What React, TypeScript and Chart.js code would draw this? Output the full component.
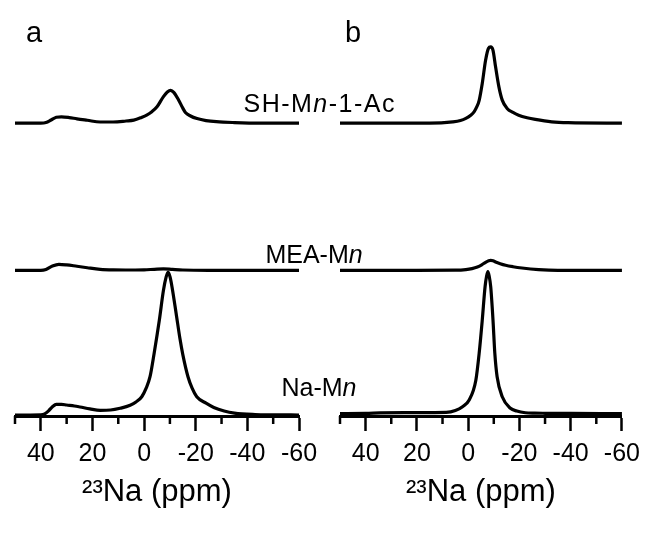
import React, { useEffect, useRef } from 'react';
import { Chart, registerables } from 'chart.js';

Chart.register(...registerables);

const FONT = '"Liberation Sans", Arial, Helvetica, sans-serif';

// ---- axis ----
const X_MIN = -60;
const X_MAX = 50;
const MAJOR_TICKS = [40, 20, 0, -20, -40, -60];
const MINOR_TICKS = [50, 30, 10, -10, -30, -50];
const AXIS_TITLE = '²³Na (ppm)';

// ---- stacking offsets (intensity units) ----
const OFFSET_NA = 0;
const OFFSET_MEA = 102;
const OFFSET_SH = 205;

// ---- panel a ----
const ppmA_SH = [50, 40, 38, 36, 34, 32, 29, 26, 22, 17, 12, 7, 4, 1, -1, -3, -5, -7.5, -9, -10.3, -11.5, -13.3, -15, -16, -18, -20.5, -24, -28, -35, -45, -60];
const intA_SH = [0, 0, 0.4, 2.2, 4.1, 4.4, 3.9, 3, 2, 0.8, 0.8, 1.5, 2.1, 4, 5.6, 8, 11.4, 18.6, 21.8, 23, 21.5, 16.4, 10.5, 7.5, 5, 3.2, 1.8, 1, 0.4, 0, 0];

const ppmA_MEA = [50, 40, 38, 35.5, 33, 30, 26, 22, 17, 12, 5, 0, -4, -7.5, -11, -15, -25, -40, -60];
const intA_MEA = [0, 0, 0.6, 3, 4.2, 3.8, 2.8, 1.8, 0.7, 0.3, 0.2, 0.3, 0.7, 1, 0.6, 0.2, 0, 0, 0];

const ppmA_NA = [50, 44, 40, 38.5, 37, 35.5, 34, 32, 30, 27, 24.8, 21, 17, 13, 9.3, 5.4, 3, 0.9, -0.8, -2.3, -3.9, -5.9, -7.5, -8.5, -9.3, -10.1, -10.8, -12.4, -13.9, -15, -17, -18.6, -20.4, -24, -27, -31, -35, -43, -50, -60];
const intA_NA = [0.7, 0.7, 0.8, 1.5, 3.6, 6.5, 8.2, 8.2, 7.7, 7, 6.3, 5, 4, 4.2, 5.4, 7.5, 10, 13.5, 19.5, 27.5, 44, 67, 88, 97, 100.8, 97, 90.5, 72, 54, 43, 27.5, 19.5, 13.5, 9, 6, 3.5, 2, 1, 0.8, 0.7];

// ---- panel b ----
const ppmB_SH = [50, 30, 15, 6, 3, 0.9, -1, -2.3, -3.4, -4.3, -5.5, -6.8, -7.9, -8.8, -9.7, -10.7, -12, -13.3, -15.2, -17.5, -19.7, -23, -26.2, -32.6, -39, -60];
const intB_SH = [0, 0, 0, 0.9, 1.8, 3.3, 5.5, 7.9, 11.5, 16, 27.8, 44, 52.3, 53.4, 51, 39.4, 25.4, 16.1, 10.3, 7.5, 5.6, 3.8, 2.6, 0.9, 0.3, 0];

const ppmB_MEA = [50, 20, 5, 0.9, -1.5, -3.6, -5.3, -6.8, -8, -8.8, -9.7, -10.7, -12.5, -14.6, -17.5, -21, -27.5, -35, -60];
const intB_MEA = [0, 0, 0.1, 0.5, 1.2, 2.3, 3.8, 5.6, 6.7, 7, 6.7, 5.8, 4.6, 3.5, 2.5, 1.6, 0.5, 0, 0];

const ppmB_NA = [50, 40, 34.4, 25, 15, 8.6, 5, 2.2, -0.4, -3, -4.3, -5.5, -6.6, -7.2, -7.7, -8.2, -8.8, -9.7, -10.4, -11.3, -13.3, -16.5, -19, -22.3, -26, -30, -40, -60];
const intB_NA = [1.7, 1.8, 2.2, 2.4, 2.4, 2.5, 3.8, 6.5, 11.2, 25, 44, 67, 90.5, 98, 101, 98, 90.5, 67, 44, 27.5, 13.5, 5.4, 3.5, 2.3, 2, 1.9, 1.8, 1.7];

// ---- text ----
const PANEL_LETTERS = ['a', 'b'];
const LABEL_SH: [string, boolean][] = [['SH-M', false], ['n', true], ['-1-Ac', false]];
const LABEL_MEA: [string, boolean][] = [['MEA-M', false], ['n', true]];
const LABEL_NA: [string, boolean][] = [['Na-M', false], ['n', true]];

function toPoints(ppm: number[], vals: number[], offset: number) {
  return ppm.map((x, i) => ({ x, y: vals[i] + offset }));
}

function ds(ppm: number[], vals: number[], offset: number) {
  return {
    data: toPoints(ppm, vals, offset),
    borderColor: '#000',
    borderWidth: 3.2,
    pointRadius: 0,
    fill: false,
    cubicInterpolationMode: 'monotone' as const,
  };
}

const minorTicksPlugin = {
  id: 'minorTicks',
  afterDraw(chart: any) {
    const sx = chart.scales.x;
    const ctx = chart.ctx;
    const y0 = chart.chartArea.bottom;
    ctx.save();
    ctx.strokeStyle = '#000';
    ctx.lineWidth = 2.5;
    MINOR_TICKS.forEach((v) => {
      const px = sx.getPixelForValue(v);
      ctx.beginPath();
      ctx.moveTo(px, y0);
      ctx.lineTo(px, y0 + 8);
      ctx.stroke();
    });
    ctx.restore();
  },
};

function drawRich(ctx: CanvasRenderingContext2D, segs: [string, boolean][], cx: number, baseline: number, size: number, spacing: number) {
  ctx.save();
  (ctx as any).letterSpacing = spacing + 'px';
  ctx.textBaseline = 'alphabetic';
  ctx.textAlign = 'left';
  ctx.fillStyle = '#000';
  const widths = segs.map(([t, it]) => {
    ctx.font = `${it ? 'italic ' : ''}${size}px ${FONT}`;
    return ctx.measureText(t).width;
  });
  const total = widths.reduce((a, b) => a + b, 0) - spacing;
  let x = cx - total / 2;
  segs.forEach(([t, it], i) => {
    ctx.font = `${it ? 'italic ' : ''}${size}px ${FONT}`;
    ctx.fillText(t, x, baseline);
    x += widths[i];
  });
  ctx.restore();
}

const labelsPlugin = {
  id: 'labels',
  afterDraw(chart: any) {
    const ctx = chart.ctx as CanvasRenderingContext2D;
    ctx.save();
    ctx.fillStyle = '#000';
    ctx.font = `29px ${FONT}`;
    ctx.textBaseline = 'alphabetic';
    ctx.textAlign = 'left';
    ctx.fillText(PANEL_LETTERS[0], 26, 42);
    ctx.fillText(PANEL_LETTERS[1], 345, 42);
    ctx.restore();
    drawRich(ctx, LABEL_SH, 319, 112, 25, 1.5);
    drawRich(ctx, LABEL_MEA, 314, 263, 25, 0);
    drawRich(ctx, LABEL_NA, 319, 396, 25, 0);
  },
};

function makeConfig(datasets: any[], padLeft: number, padRight: number, extra: any[]): any {
  return {
    type: 'line',
    data: { datasets },
    options: {
      animation: false,
      responsive: false,
      maintainAspectRatio: false,
      devicePixelRatio: 1,
      layout: { padding: { left: padLeft, right: padRight, top: 16, bottom: 0 } },
      plugins: {
        legend: { display: false },
        tooltip: { enabled: false },
        title: { display: false },
      },
      scales: {
        x: {
          type: 'linear',
          reverse: true,
          min: X_MIN,
          max: X_MAX,
          afterFit: (s: any) => {
            s.height = 117;
          },
          ticks: {
            stepSize: 10,
            autoSkip: false,
            maxRotation: 0,
            minRotation: 0,
            color: '#000',
            padding: 8,
            font: { family: FONT, size: 25 },
            callback: (v: any) => (MAJOR_TICKS.includes(Number(v)) ? String(v) : ''),
          },
          grid: {
            display: true,
            drawOnChartArea: false,
            drawTicks: true,
            tickLength: 15,
            tickWidth: 2.5,
            tickColor: (c: any) => (c.tick && MAJOR_TICKS.includes(c.tick.value) ? '#000' : 'rgba(0,0,0,0)'),
          },
          border: { display: true, color: '#000', width: 3 },
          title: {
            display: true,
            text: AXIS_TITLE,
            color: '#000',
            font: { family: FONT, size: 31 },
            padding: { top: 0, bottom: 22 },
          },
        },
        y: { type: 'linear', display: false, min: 0, max: 280 },
      },
    },
    plugins: [minorTicksPlugin, ...extra],
  };
}

export default function App() {
  const refA = useRef<HTMLCanvasElement>(null);
  const refB = useRef<HTMLCanvasElement>(null);

  useEffect(() => {
    const chartA = new Chart(
      refA.current as HTMLCanvasElement,
      makeConfig(
        [ds(ppmA_SH, intA_SH, OFFSET_SH), ds(ppmA_MEA, intA_MEA, OFFSET_MEA), ds(ppmA_NA, intA_NA, OFFSET_NA)],
        15,
        349,
        [labelsPlugin]
      )
    );
    const chartB = new Chart(
      refB.current as HTMLCanvasElement,
      makeConfig(
        [ds(ppmB_SH, intB_SH, OFFSET_SH), ds(ppmB_MEA, intB_MEA, OFFSET_MEA), ds(ppmB_NA, intB_NA, OFFSET_NA)],
        340,
        24,
        []
      )
    );
    return () => {
      chartA.destroy();
      chartB.destroy();
    };
  }, []);

  const cstyle: React.CSSProperties = { position: 'absolute', left: 0, top: 0, width: 648, height: 533, display: 'block' };
  return (
    <div style={{ position: 'fixed', left: 0, top: 0, width: 648, height: 533, background: '#fff' }}>
      <canvas ref={refA} width={648} height={533} style={cstyle} />
      <canvas ref={refB} width={648} height={533} style={cstyle} />
    </div>
  );
}
